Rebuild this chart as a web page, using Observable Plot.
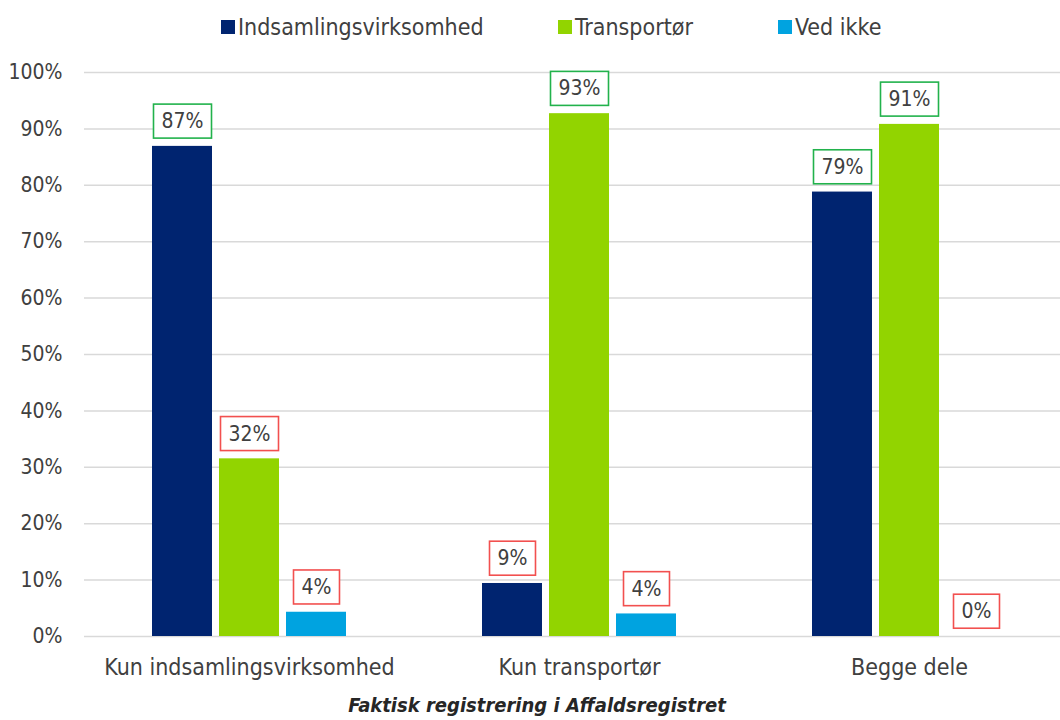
<!DOCTYPE html>
<html><head><meta charset="utf-8">
<script src="https://cdn.jsdelivr.net/npm/d3@7"></script>
<script src="https://cdn.jsdelivr.net/npm/@observablehq/plot@0.6"></script>
<style>
body{margin:0;background:#fff;overflow:hidden;font-family:"DejaVu Sans Condensed","DejaVu Sans",sans-serif;color:#404040}
#legend{position:relative;height:50px;width:1060px}
.item{position:absolute;top:2px;height:50px;display:flex;align-items:center;font-size:23px;white-space:nowrap}
.sw{width:14px;height:14px;margin-right:3px;flex:none}
#chart{height:640px}
#caption{position:relative;left:7px;width:1060px;height:30px;line-height:30px;text-align:center;font-size:20px;font-weight:bold;font-style:italic;color:#262626}
</style></head><body>
<div id="legend"></div><div id="chart"></div><div id="caption"></div>
<script>
const groups = ["Kun indsamlingsvirksomhed", "Kun transportør", "Begge dele"];
const seriesNames = ["Indsamlingsvirksomhed", "Transportør", "Ved ikke"];
const seriesColors = ["#002470", "#92d400", "#00a3e0"];
const indsamlingValues = [86.9, 9.4, 78.8];
const transportorValues = [31.5, 92.7, 90.8];
const vedIkkeValues = [4.3, 4.0, 0];
const yTicks = [0, 10, 20, 30, 40, 50, 60, 70, 80, 90, 100];
const xTitle = "Faktisk registrering i Affaldsregistret";

const seriesValues = [indsamlingValues, transportorValues, vedIkkeValues];
const table = [];
groups.forEach((g, i) => seriesValues.forEach((arr, j) =>
  table.push({group: g, series: seriesNames[j], value: arr[i]})));

// legend
const legendLeft = [221, 558, 778];
const legend = document.getElementById("legend");
seriesNames.forEach((s, j) => {
  const it = document.createElement("div");
  it.className = "item";
  it.style.left = legendLeft[j] + "px";
  it.innerHTML = `<span class="sw" style="background:${seriesColors[j]}"></span><span>${s}</span>`;
  legend.appendChild(it);
});

const plot = Plot.plot({
  width: 1060, height: 640,
  marginLeft: 84, marginRight: 0, marginTop: 22, marginBottom: 54,
  style: {fontFamily: "'DejaVu Sans Condensed','DejaVu Sans',sans-serif", fontSize: "21px", color: "#404040", background: "#fff"},
  facet: {data: table, x: "group"},
  fx: {domain: groups, range: [84, 1074], padding: 0, label: null, tickSize: 0, tickPadding: 22, axis: "bottom"},
  x: {domain: seriesNames, paddingInner: 0.1, paddingOuter: 1, axis: null},
  y: {domain: [0, 100], ticks: yTicks, tickFormat: d => d + "%", tickSize: 0, tickPadding: 22, label: null},
  color: {domain: seriesNames, range: seriesColors},
  marks: [
    Plot.ruleY(yTicks, {stroke: "#d9d9d9", strokeWidth: 1.5}),
    Plot.barY(table, {x: "series", y: "value", fill: "series"}),
    Plot.text(table, {x: "series", y: "value", text: d => Math.round(d.value) + "%", dy: -25, lineAnchor: "middle", fontSize: 21, fill: "#404040"})
  ]
});
document.getElementById("chart").appendChild(plot);

// enlarge category labels
plot.querySelectorAll("text").forEach(t => {
  if (groups.includes(t.textContent)) t.setAttribute("font-size", 23);
});
// boxes around value labels
plot.querySelectorAll('g[aria-label="text"] text').forEach(t => {
  const v = parseFloat(t.textContent);
  if (isNaN(v)) return;
  const bb = t.getBBox();
  const r = document.createElementNS("http://www.w3.org/2000/svg", "rect");
  const cy = bb.y + bb.height / 2;
  r.setAttribute("x", bb.x - 8);
  r.setAttribute("y", cy - 17);
  r.setAttribute("width", bb.width + 16);
  r.setAttribute("height", 34);
  r.setAttribute("fill", "#fff");
  r.setAttribute("stroke", v >= 50 ? "#22b24c" : "#f2504f");
  r.setAttribute("stroke-width", 1.6);
  if (t.getAttribute("transform")) r.setAttribute("transform", t.getAttribute("transform"));
  t.parentNode.insertBefore(r, t);
});
document.getElementById("caption").textContent = xTitle;
</script>
</body></html>
